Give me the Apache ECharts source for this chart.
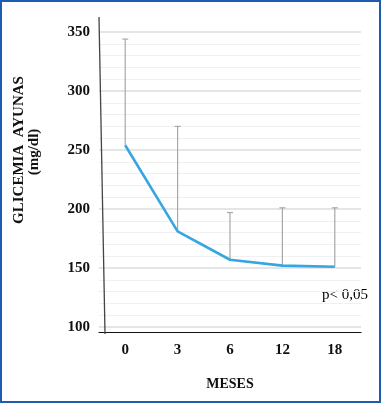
<!DOCTYPE html>
<html><head><meta charset="utf-8">
<script src="https://cdn.jsdelivr.net/npm/echarts@6/dist/echarts.min.js"></script>
<style>html,body{margin:0;padding:0;background:#fff}#c{width:381px;height:403px;box-sizing:border-box;border:2px solid #1f5bb5}</style>
</head><body><div id="c"></div>
<script>
var categories = ['0', '3', '6', '12', '18'];
var means = [254, 181, 157, 152, 151];
var upper = [344, 270, 197, 201, 201];
var yTicks = [100, 150, 200, 250, 300, 350];

var chart = echarts.init(document.getElementById('c'));
var serif = '"Liberation Serif","Times New Roman",serif';
var errData = categories.map(function (c, i) { return [i, means[i], upper[i]]; });

chart.setOption({
  animation: false,
  grid: { left: 97, right: 18, top: 30, bottom: 74 },
  xAxis: {
    type: 'category', data: categories, boundaryGap: true, offset: 5,
    axisLine: { lineStyle: { color: '#111', width: 1.2 } },
    axisTick: { show: false },
    axisLabel: { margin: 11, fontFamily: serif, fontWeight: 'bold', fontSize: 15, color: '#111' },
    name: 'MESES', nameLocation: 'middle', nameGap: 45,
    nameTextStyle: { fontFamily: serif, fontWeight: 'bold', fontSize: 14, color: '#111' }
  },
  yAxis: {
    type: 'value', min: yTicks[0], max: yTicks[yTicks.length - 1], interval: 50,
    axisLine: { show: false }, axisTick: { show: false },
    axisLabel: { margin: 9, fontFamily: serif, fontWeight: 'bold', fontSize: 15, color: '#111', padding: [3, 0, 0, 0] },
    splitLine: { lineStyle: { color: '#dcdcdc', width: 1.5 } },
    minorTick: { show: false, splitNumber: 5 },
    minorSplitLine: { show: true, lineStyle: { color: '#f0f0f0', width: 1 } }
  },
  graphic: [
    { type: 'line', shape: { x1: 97, y1: 15, x2: 103, y2: 332 }, style: { stroke: '#444', lineWidth: 1.3 }, z: 10 },
    { type: 'text', x: 17, y: 148, rotation: Math.PI / 2, style: { text: 'GLICEMIA  AYUNAS', font: 'bold 15px ' + serif, fill: '#111', textAlign: 'center', textVerticalAlign: 'middle' } },
    { type: 'text', x: 32, y: 150, rotation: Math.PI / 2, style: { text: '(mg/dl)', font: 'bold 15px ' + serif, fill: '#111', textAlign: 'center', textVerticalAlign: 'middle' } },
    { type: 'text', x: 343, y: 293, style: { text: 'p< 0,05', font: '15px ' + serif, fill: '#000', textAlign: 'center', textVerticalAlign: 'middle' } }
  ],
  series: [
    {
      type: 'custom', data: errData, z: 1,
      renderItem: function (params, api) {
        var x = api.value(0);
        var p0 = api.coord([x, api.value(1)]);
        var p1 = api.coord([x, api.value(2)]);
        return {
          type: 'group', children: [
            { type: 'line', shape: { x1: p0[0], y1: p0[1], x2: p1[0], y2: p1[1] }, style: { stroke: '#a8a8a8', lineWidth: 1.2 } },
            { type: 'line', shape: { x1: p1[0] - 3, y1: p1[1], x2: p1[0] + 3, y2: p1[1] }, style: { stroke: '#a8a8a8', lineWidth: 1.2 } }
          ]
        };
      }
    },
    {
      type: 'line', data: means, z: 3, symbol: 'none',
      lineStyle: { color: '#36a6e2', width: 2.6 }
    }
  ]
});
</script></body></html>
